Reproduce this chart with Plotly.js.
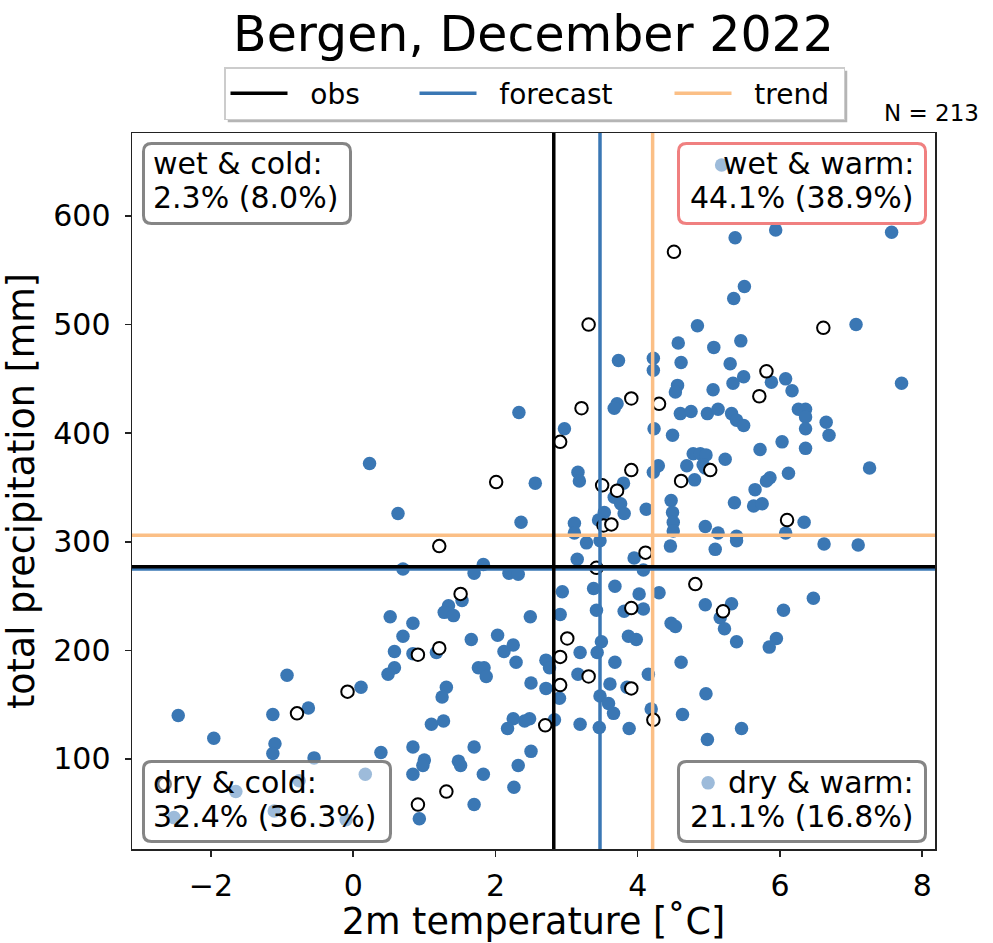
<!DOCTYPE html>
<html>
<head>
<meta charset="utf-8">
<script src="https://cdn.plot.ly/plotly-3.0.1.min.js"></script>
<style>html,body{margin:0;padding:0;background:#fff;}#chart{width:993px;height:943px;}</style>
</head>
<body>
<div id="chart"></div>
<script>
// ---------- data ----------
const ensTemp = [5.18,5.94,5.37,7.57,5.50,5.35,4.84,7.07,4.57,5.07,5.45,4.61,5.30,
  5.49,5.34,5.88,6.08,6.17,7.71,4.56,4.53,5.06,4.60,4.75,4.98,5.13,5.32,5.39,5.49,6.26,6.36,6.36,6.65,6.69,6.36,6.03,6.36,4.49,5.72,4.78,4.88,4.96,5.23,4.69,4.92,4.95,4.80,7.26,6.12,5.86,5.81,5.65,5.36,5.63,5.75,4.47,4.49,4.50,4.50,4.95,5.13,5.39,5.39,6.34,6.08,6.62,7.10,4.46,5.09,4.95,5.32,6.47,6.05,5.16,
  4.47,4.53,5.22,5.39,5.95,5.85,4.61,4.96,4.63,5.46,4.98,4.99,
  0.84,0.70,1.34,1.28,1.41,2.49,2.91,3.42,3.81,4.08,1.66,2.03,2.25,2.12,2.29,0.84,1.17,3.19,3.43,3.49,3.87,3.98,3.68,2.71,2.76,3.16,3.61,3.85,4.15,1.76,1.84,1.87,2.50,2.71,2.90,1.31,1.25,3.47,3.59,3.66,4.19,3.88,3.46,3.19,2.83,2.48,2.41,2.25,2.17,1.10,1.27,0.84,1.70,2.50,1.00,0.98,1.48,1.51,0.84,1.83,2.32,2.26,1.70,0.93,
  0.52,0.58,0.58,0.49,0.11,-0.93,-0.63,-1.13,-2.46,-1.96,-1.10,-1.13,-0.55,0.39,0.17,-0.76,-1.65,-2.52,-1.11,-0.10,
  0.23,0.63,
  2.33,3.71,3.67,4.23,2.97,2.56,2.36,3.16,3.18,3.80,3.67,3.76,3.81,4.12,4.22,4.29,3.53,3.45,3.11,3.11,3.28,3.47,3.15,3.95,1.83,1.70,2.19,2.32,0.70,4.08,1.53,2.94,3.38,3.68,4.02,4.30,
  3.73,4.22,4.22];
const ensPrecip = [647,587,580,585,535,524,499,500,483,479,485,465,464,
  452,446,447,450,439,446,444,438,440,418,420,418,422,418,412,407,422,422,415,410,398,404,392,386,398,385,381,381,380,376,370,371,368,357,368,363,359,356,348,336,333,335,338,327,318,310,314,308,305,301,318,308,298,297,296,293,242,243,248,237,230,
  225,222,220,208,211,203,189,160,141,128,118,78,
  225,213,241,235,232,231,233,237,236,238,210,214,205,199,189,197,198,198,198,208,213,210,189,191,184,178,169,166,178,184,184,176,170,165,156,166,157,158,151,142,146,128,129,132,136,137,135,137,128,132,135,111,111,107,99,94,98,94,86,86,94,74,58,45,
  231,199,184,178,166,177,147,141,140,119,114,105,101,106,86,80,70,46,52,44,
  372,326,
  419,427,423,404,404,354,318,364,356,354,341,335,326,330,364,370,327,320,317,308,299,301,284,285,279,271,271,270,275,274,246,254,257,259,252,253,
  467,469,458];
const pastTemp = [4.51,6.61,5.81,5.71,5.02,4.61,6.10,4.81,5.20,3.31,3.21,3.91,4.30,2.91,2.01,1.21,3.50,3.91,3.71,3.52,3.63,4.11,3.42,1.51,3.91,0.91,1.21,3.01,2.91,2.91,3.31,3.91,4.22,2.70,1.31,0.91,-0.08,-0.79,-2.65];
const pastPrecip = [567,497,457,434,366,356,320,261,236,500,423,432,427,392,355,296,352,366,347,315,316,290,276,252,239,196,202,211,194,168,176,165,136,131,70,58,162,142,77];

const obsTemp = 2.82, obsPrecip = 277;
const fcTemp = 3.47, fcPrecip = 275;
const trendTemp = 4.21, trendPrecip = 306;

const titleText = "Bergen, December 2022";
const xTitle = "2m temperature [˚C]";
const yTitle = "total precipitation [mm]";
const seriesNames = ["obs", "forecast", "trend"];
const quadLabels = ["wet &amp; cold:", "wet &amp; warm:", "dry &amp; cold:", "dry &amp; warm:"];
const quadValues = ["2.3% (8.0%)", "44.1% (38.9%)", "32.4% (36.3%)", "21.1% (16.8%)"];
const nLabel = "N = 213";

// ---------- layout helpers ----------
const W = 993, H = 943;
const L = 132, R = 935, T = 133, B = 849;
const xRange = [-3.11, 8.18], yRange = [17.1, 676.4];
const px = v => (v - L) / (R - L);
const py = v => (B - v) / (B - T);
function rrect(x0, y0, x1, y1, r) {
  const p = (a, b) => px(a).toFixed(5) + ',' + py(b).toFixed(5);
  return 'M' + p(x0 + r, y0) + ' L' + p(x1 - r, y0) + ' Q' + p(x1, y0) + ' ' + p(x1, y0 + r) +
    ' L' + p(x1, y1 - r) + ' Q' + p(x1, y1) + ' ' + p(x1 - r, y1) +
    ' L' + p(x0 + r, y1) + ' Q' + p(x0, y1) + ' ' + p(x0, y1 - r) +
    ' L' + p(x0, y0 + r) + ' Q' + p(x0, y0) + ' ' + p(x0 + r, y0) + ' Z';
}
const FONT = "DejaVu Sans, Liberation Sans, sans-serif";
const BLUE = "#3a77b4", ORANGE = "#fbbf86";
const PAD = "\u00a0\u00a0"; // gap between legend line and its label
const far = [-100, 2000];

const traces = [
  {type: "scatter", mode: "markers", x: ensTemp, y: ensPrecip, showlegend: false, hoverinfo: "skip",
   marker: {color: BLUE, size: 13.5, line: {width: 0}}},
  {type: "scatter", mode: "markers", x: pastTemp, y: pastPrecip, showlegend: false, hoverinfo: "skip",
   marker: {color: "white", size: 12.5, line: {color: "black", width: 2}}},
  {type: "scatter", mode: "lines", name: PAD + seriesNames[2], legendrank: 3, legendwidth: 102,
   x: [trendTemp, trendTemp, null, -100, 100], y: [far[0], far[1], null, trendPrecip, trendPrecip],
   line: {color: ORANGE, width: 3.5}},
  {type: "scatter", mode: "lines", name: PAD + seriesNames[1], legendrank: 2, legendwidth: 183,
   x: [fcTemp, fcTemp, null, -100, 100], y: [far[0], far[1], null, fcPrecip, fcPrecip],
   line: {color: BLUE, width: 3.5}},
  {type: "scatter", mode: "lines", name: PAD + seriesNames[0], legendrank: 1, legendwidth: 117,
   x: [obsTemp, obsTemp, null, -100, 100], y: [far[0], far[1], null, obsPrecip, obsPrecip],
   line: {color: "black", width: 3.5}}
];

const boxes = [
  {x0: 142, y0: 142, x1: 352, y1: 225, edge: "rgba(120,120,120,0.9)"},
  {x0: 677, y0: 142, x1: 927, y1: 225, edge: "#f08080"},
  {x0: 142, y0: 760, x1: 392, y1: 843, edge: "rgba(120,120,120,0.9)"},
  {x0: 677, y0: 760, x1: 927, y1: 843, edge: "rgba(120,120,120,0.9)"}
];
const shapes = boxes.map(b => ({type: "path", xref: "paper", yref: "paper", layer: "above",
  path: rrect(b.x0 + 1.5, b.y0 + 1.5, b.x1 - 1.5, b.y1 - 1.5, 8),
  fillcolor: "rgba(255,255,255,0.5)", line: {color: b.edge, width: 3}}));

const BOXFONT = 30;
const textPos = [
  {x: 152, y1: 174, y2: 208, anchor: "left"},
  {x: 915, y1: 174, y2: 208, anchor: "right"},
  {x: 152, y1: 793, y2: 827, anchor: "left"},
  {x: 915, y1: 793, y2: 827, anchor: "right"}
];
const annotations = [];
textPos.forEach((t, i) => {
  [[quadLabels[i], t.y1], [quadValues[i], t.y2]].forEach(([txt, base]) => {
    annotations.push({xref: "paper", yref: "paper", x: px(t.x), y: py(base - 0.346 * BOXFONT),
      xanchor: t.anchor, yanchor: "middle", text: txt, showarrow: false, borderpad: 0,
      font: {family: FONT, size: BOXFONT, color: "black"}});
  });
});
annotations.push({xref: "paper", yref: "paper", x: px(980), y: py(121 - 0.346 * 23), xanchor: "right", yanchor: "middle",
  text: nLabel, showarrow: false, borderpad: 0, font: {family: FONT, size: 23, color: "black"}});

const axisCommon = {showline: true, mirror: true, linecolor: "#222", linewidth: 1.5, ticks: "outside",
  ticklen: 6, tickwidth: 1.5, tickcolor: "#222", showgrid: false, zeroline: false,
  tickfont: {family: FONT, size: 30, color: "black"}, automargin: false};

const layout = {
  width: W, height: H, paper_bgcolor: "white", plot_bgcolor: "white",
  margin: {l: L, r: W - R, t: T, b: H - B, pad: 0},
  font: {family: FONT, color: "black"},
  title: {text: titleText, x: 0.5, xref: "paper", xanchor: "center", y: 1 - 34 / H, yref: "container", yanchor: "middle",
    font: {family: FONT, size: 49, color: "black"}},
  xaxis: Object.assign({}, axisCommon, {range: xRange, tickmode: "array", tickvals: [-2, 0, 2, 4, 6, 8],
    ticklabelstandoff: 3, title: {text: xTitle, standoff: 10, font: {family: FONT, size: 36.5, color: "black"}}}),
  yaxis: Object.assign({}, axisCommon, {range: yRange, tickmode: "array", tickvals: [100, 200, 300, 400, 500, 600],
    ticklabelstandoff: 8, title: {text: yTitle, standoff: 12, font: {family: FONT, size: 36.5, color: "black"}}}),
  showlegend: true,
  legend: {orientation: "h", x: px(224), xanchor: "left", y: py(67), yanchor: "top",
    bgcolor: "white", bordercolor: "#cccccc", borderwidth: 1.5, font: {family: FONT, size: 28, color: "black"},
    itemwidth: 57, traceorder: "normal"},
  shapes: shapes,
  annotations: annotations
};

Plotly.newPlot("chart", traces, layout, {staticPlot: true, displayModeBar: false}).then(gd => {
  const bg = gd.querySelector(".legend .bg");
  if (!bg) return;
  const r = bg.getBoundingClientRect();
  const c = gd.getBoundingClientRect();
  const x0 = r.left - c.left + 3, x1 = r.right - c.left + 3, y0 = r.top - c.top + 3, y1 = r.bottom - c.top + 3;
  const sh = shapes.concat([{type: "rect", xref: "paper", yref: "paper", layer: "below",
    x0: px(x0), x1: px(x1), y0: py(y1), y1: py(y0), fillcolor: "rgba(120,120,120,0.55)", line: {width: 0}}]);
  return Plotly.relayout(gd, {shapes: sh});
});
</script>
</body>
</html>
